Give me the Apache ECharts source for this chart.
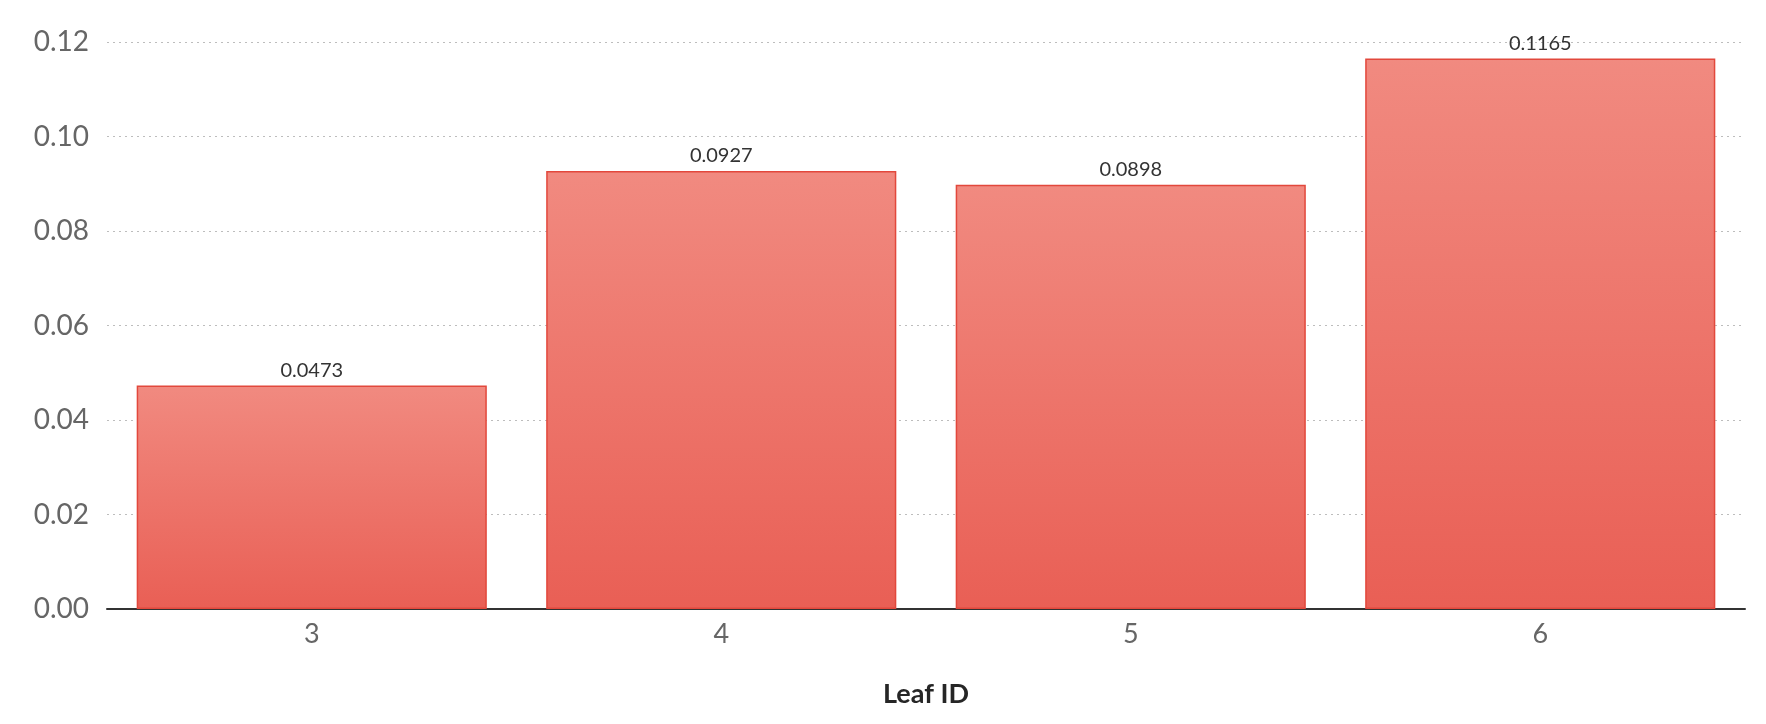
<!DOCTYPE html>
<html>
<head>
<meta charset="utf-8">
<title>Leaf ID</title>
<script src="https://cdn.jsdelivr.net/npm/echarts@6/dist/echarts.min.js"></script>
<style>
  html, body { margin: 0; padding: 0; background: #ffffff; }
  #chart { width: 1766px; height: 724px; }
</style>
</head>
<body>
<div id="chart"></div>
<script>
// Categories and values
const leafIds = ['3', '4', '5', '6'];
const leafValues = [0.0473, 0.0927, 0.0898, 0.1165];
const axisTitle = 'Leaf ID';

const chart = echarts.init(document.getElementById('chart'));

const barFill = new echarts.graphic.LinearGradient(0, 0, 0, 1, [
  { offset: 0, color: '#f18a80' },
  { offset: 1, color: '#e95f55' }
]);

chart.setOption({
  animation: false,
  backgroundColor: '#ffffff',
  grid: { left: 107, right: 21, top: 42, bottom: 115, containLabel: false },
  xAxis: {
    type: 'category',
    data: leafIds,
    name: axisTitle,
    nameLocation: 'middle',
    nameGap: 72,
    nameTextStyle: { fontFamily: 'Lato', fontWeight: 'bold', fontSize: 27, color: '#262626' },
    axisLine: { lineStyle: { color: '#333333', width: 2 } },
    axisTick: { show: false },
    axisLabel: { fontFamily: 'Lato', fontSize: 27, color: '#666666', margin: 12 }
  },
  yAxis: {
    type: 'value',
    min: 0,
    max: 0.12,
    interval: 0.02,
    axisLine: { show: false },
    axisTick: { show: false },
    axisLabel: {
      fontFamily: 'Lato', fontSize: 28, color: '#666666', margin: 18,
      formatter: v => v.toFixed(2)
    },
    splitLine: { lineStyle: { color: '#bdbdbd', type: [2, 4], width: 1 } }
  },
  series: [{
    type: 'bar',
    data: leafValues,
    barCategoryGap: '14.5%',
    itemStyle: { color: barFill, borderColor: '#e2483c', borderWidth: 1.5 },
    label: {
      show: true,
      position: 'top',
      distance: 5,
      fontFamily: 'Lato',
      fontSize: 20,
      color: '#333333',
      formatter: p => p.value.toFixed(4)
    }
  }]
});
</script>
</body>
</html>
